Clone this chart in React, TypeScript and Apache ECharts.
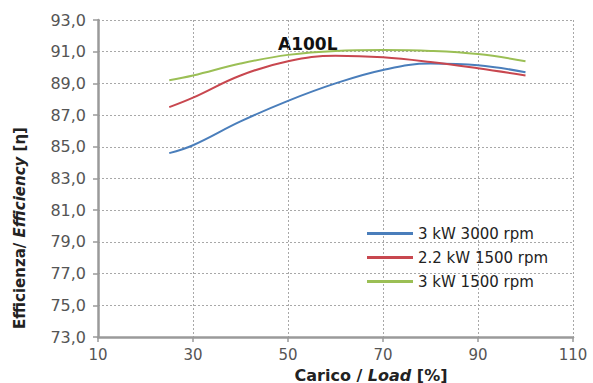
import React, { useEffect, useRef } from "react";
import * as echarts from "echarts";

const loads = [25, 30, 40, 50, 60, 70, 80, 90, 100];
const blue3kW3000 = [84.6, 85.1, 86.6, 87.9, 89.0, 89.85, 90.25, 90.15, 89.7];
const red22kW1500 = [87.5, 88.1, 89.5, 90.4, 90.75, 90.65, 90.35, 89.95, 89.5];
const green3kW1500 = [89.2, 89.5, 90.25, 90.8, 91.05, 91.1, 91.05, 90.85, 90.4];
const seriesNames = ["3 kW 3000 rpm", "2.2 kW 1500 rpm", "3 kW 1500 rpm"];
const seriesColors = ["#4a7ebb", "#c8474f", "#9bbf55"];

export default function App() {
  const ref = useRef<HTMLDivElement>(null);
  useEffect(() => {
    if (!ref.current) return;
    const chart = echarts.init(ref.current, null, { renderer: "svg" });
    const datasets = [blue3kW3000, red22kW1500, green3kW1500];
    const gridLine = { show: true, lineStyle: { color: "#a8a8a8", type: [2, 2], width: 1 } };
    chart.setOption({
      animation: false,
      backgroundColor: "#fff",
      grid: { left: 98, right: 20, top: 20, bottom: 46 },
      xAxis: {
        type: "value",
        min: 10,
        max: 110,
        interval: 20,
        axisLine: { show: true, lineStyle: { color: "#9a9a9a", width: 2.5 } },
        axisTick: { show: true, length: 5, lineStyle: { color: "#9a9a9a", width: 1.5 } },
        axisLabel: { color: "#555", fontSize: 15, fontFamily: "DejaVu Sans", margin: 10 },
        splitLine: gridLine,
      },
      yAxis: {
        type: "value",
        min: 73,
        max: 93,
        interval: 2,
        axisLine: { show: true, lineStyle: { color: "#9a9a9a", width: 2.5 } },
        axisTick: { show: true, length: 5, lineStyle: { color: "#9a9a9a", width: 1.5 } },
        axisLabel: {
          color: "#555",
          fontSize: 16,
          fontFamily: "DejaVu Sans",
          margin: 12,
          formatter: (v: number) => v.toFixed(1).replace(".", ","),
        },
        splitLine: gridLine,
      },
      legend: {
        orient: "vertical",
        left: 362,
        top: 221,
        itemWidth: 46,
        itemHeight: 3,
        itemGap: 9,
        icon: "rect",
        data: seriesNames,
        textStyle: { color: "#222", fontSize: 15, fontFamily: "DejaVu Sans" },
      },
      series: datasets.map((d, i) => ({
        name: seriesNames[i],
        type: "line",
        smooth: 0.4,
        showSymbol: false,
        symbol: "none",
        color: seriesColors[i],
        lineStyle: { width: 2, color: seriesColors[i] },
        data: loads.map((x, j) => [x, d[j]]),
      })),
      graphic: [
        {
          type: "text",
          left: 278,
          top: 35,
          style: {
            text: "A100L",
            fontSize: 17,
            fontWeight: "bold",
            fontFamily: "DejaVu Sans",
            fill: "#111",
          },
        },
        {
          type: "text",
          x: 20,
          y: 228,
          rotation: Math.PI / 2,
          style: {
            text: "{b|Efficienza/ }{i|Efficiency}{b| [η]}",
            align: "center",
            verticalAlign: "middle",
            rich: {
              b: { fontSize: 15, fontWeight: "bold", fontFamily: "DejaVu Sans", fill: "#222" },
              i: { fontSize: 15, fontWeight: "bold", fontStyle: "italic", fontFamily: "DejaVu Sans", fill: "#222" },
            },
          },
        },
        {
          type: "text",
          x: 371,
          y: 375,
          style: {
            text: "{b|Carico / }{i|Load}{b| [%]}",
            align: "center",
            verticalAlign: "middle",
            rich: {
              b: { fontSize: 16, fontWeight: "bold", fontFamily: "DejaVu Sans", fill: "#222" },
              i: { fontSize: 16, fontWeight: "bold", fontStyle: "italic", fontFamily: "DejaVu Sans", fill: "#222" },
            },
          },
        },
      ],
    });
    return () => chart.dispose();
  }, []);
  return <div ref={ref} style={{ width: 593, height: 383, position: "absolute", left: 0, top: 0 }} />;
}
